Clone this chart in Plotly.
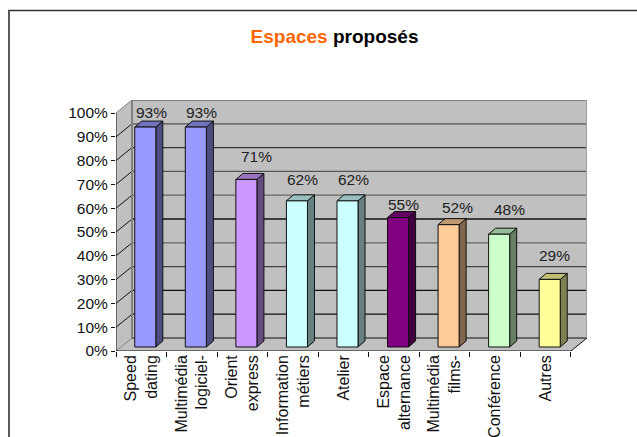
import plotly.graph_objects as go

# Data
categories = ["Speed<br>dating", "Multimédia<br>logiciel-", "Orient<br>express", "Information<br>métiers",
              "Atelier", "Espace<br>alternance", "Multimédia<br>films-", "Conférence", "Autres"]
values = [93, 93, 71, 62, 62, 55, 52, 48, 29]
y_ticks = [0, 10, 20, 30, 40, 50, 60, 70, 80, 90, 100]

# Styles
front_colors = ["#9999FF", "#9999FF", "#CC99FF", "#CCFFFF", "#CCFFFF", "#800080", "#FFCC99", "#CCFFCC", "#FFFF99"]
side_colors = ["#4D4D80", "#4D4D80", "#664D80", "#668080", "#668080", "#400040", "#80664D", "#668066", "#808050"]
top_colors = ["#7373BF", "#7373BF", "#9973BF", "#99BFBF", "#99BFBF", "#600060", "#BF9973", "#99BF99", "#BFBF73"]
grid_colors = ["#666666", "#111111", "#111111", "#444444", "#666666", "#111111", "#666666", "#555555", "#333333", "#555555", "#808080"]
label_dx = [10, 10, 14, 10, 10, 9, 13, 14, 9]
label_dy = [17, 17, 26, 24, 24, 16, 20, 27, 26]

W, H = 637, 437
L, R, T, B = 116, 587, 100, 351
CAT_PX = 454 / 9
UNIT_PX = 2.38
DX = 16 / CAT_PX
DY = 13 / UNIT_PX
xr = [-0.5, 8.5 + DX]
yr = [0, 100 + DY]
bar_w = 21 / CAT_PX
bar_shift = 4 / CAT_PX
bar_base = 4 / UNIT_PX
bar_dx = 7 / CAT_PX
bar_dy = 6 / UNIT_PX
top_adj = -0.6
FONT = "Liberation Sans"

fig = go.Figure()


def poly(xs, ys, fill, line="rgba(0,0,0,0)", width=0):
    fig.add_trace(go.Scatter(x=xs, y=ys, mode="lines", fill="toself", fillcolor=fill,
                             line=dict(color=line, width=width), hoverinfo="skip", showlegend=False,
                             xaxis="x", yaxis="y"))


def seg(xs, ys, color, width=1):
    fig.add_trace(go.Scatter(x=xs, y=ys, mode="lines", line=dict(color=color, width=width),
                             hoverinfo="skip", showlegend=False, xaxis="x", yaxis="y"))


x0, x1 = xr[0], 8.5
poly([x0 + DX, x1 + DX, x1 + DX, x0 + DX, x0 + DX], [DY, DY, 100 + DY, 100 + DY, DY], "#C0C0C0")
poly([x0, x0 + DX, x0 + DX, x0, x0], [0, DY, 100 + DY, 100, 0], "#C0C0C0")
poly([x0, x1, x1 + DX, x0 + DX, x0], [0, 0, DY, DY, 0], "#C0C0C0")

for lvl, c in zip(y_ticks, grid_colors):
    seg([x0, x0 + DX], [lvl, lvl + DY], "#808080" if lvl in (0, 100) else "#111111", 1)
    seg([x0 + DX, x1 + DX], [lvl + DY, lvl + DY], c, 2 if lvl in (0, 100) else 1.3)
seg([x0 + DX, x0 + DX], [DY, 100 + DY], "#808080", 2)
seg([x1 + DX, x1 + DX], [DY, 100 + DY], "#A0A0A0", 2)
seg([x1, x1 + DX], [0, DY], "#111111", 1)
seg([x0, x0], [0, 100], "#111111", 1)
seg([x0, x1], [0, 0], "#111111", 1)

for i, v in enumerate(values):
    xl = i - bar_w / 2 + bar_shift
    xh = xl + bar_w
    yb = bar_base
    yt = v + bar_base + top_adj
    poly([xh, xh + bar_dx, xh + bar_dx, xh, xh], [yb, yb + bar_dy, yt + bar_dy, yt, yb], side_colors[i], "#111111", 1)
    poly([xl, xh, xh + bar_dx, xl + bar_dx, xl], [yt, yt, yt + bar_dy, yt + bar_dy, yt], top_colors[i], "#111111", 1)

fig.add_trace(go.Bar(x=categories, y=[v + top_adj for v in values], base=bar_base, width=bar_w,
                     offset=-bar_w / 2 + bar_shift,
                     marker=dict(color=front_colors, line=dict(color="#111111", width=1)),
                     hoverinfo="skip", showlegend=False, xaxis="x2", yaxis="y"))

for i, v in enumerate(values):
    fig.add_annotation(x=i, y=v, xref="x", yref="y", text=f"{v}%", showarrow=False,
                       xanchor="center", yanchor="middle", xshift=label_dx[i], yshift=label_dy[i],
                       font=dict(family=FONT, size=15.5, color="#222222"))

px = lambda p: (p - L) / (R - L)
py = lambda p: (B - p) / (B - T)
fig.add_shape(type="path", xref="paper", yref="paper", line=dict(color="#333333", width=1.6),
              path=f"M {px(9)} {py(437)} L {px(9)} {py(10.5)} L {px(637)} {py(10.5)}")

fig.update_layout(
    width=W, height=H, autosize=False,
    margin=dict(l=L, r=W - R, t=T, b=H - B, pad=0, autoexpand=False),
    paper_bgcolor="white", plot_bgcolor="white", showlegend=False,
    title=dict(text='<span style="color:#FF6600">Espaces</span> proposés', x=334.5 / W, xref="container",
               xanchor="center", y=1 - 36 / H, yanchor="middle", automargin=False,
               font=dict(family=FONT, size=19, color="#000000", weight="bold")),
    xaxis=dict(range=xr, visible=False, fixedrange=True, automargin=False),
    xaxis2=dict(type="category", overlaying="x", side="bottom", anchor="y", range=xr, tickson="boundaries",
                ticks="outside", ticklen=5, tickwidth=1, tickcolor="#111111", tickangle=-90, automargin=False,
                showgrid=False, zeroline=False, showline=False, fixedrange=True,
                tickfont=dict(family=FONT, size=16, color="#111111")),
    yaxis=dict(range=yr, tickvals=y_ticks, ticktext=[f"{t}%" for t in y_ticks], ticks="outside", ticklen=4,
               tickwidth=1, tickcolor="#111111", showgrid=False, zeroline=False, showline=False, fixedrange=True,
               automargin=False, tickfont=dict(family=FONT, size=15.5, color="#111111")),
)

fig.write_html("out.html", config=dict(displayModeBar=False),
               post_script="document.body.style.margin='0';document.body.style.overflow='hidden';")
